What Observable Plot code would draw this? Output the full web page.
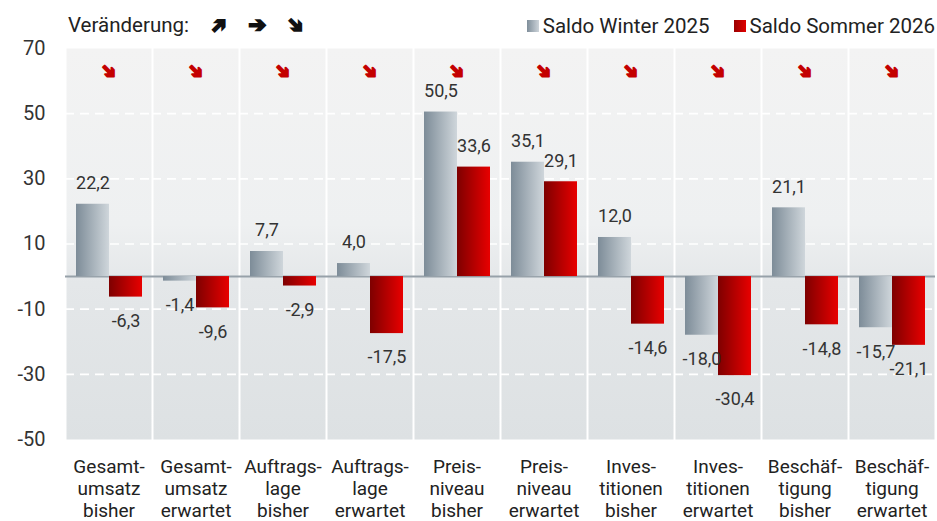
<!DOCTYPE html>
<html>
<head>
<meta charset="utf-8">
<script src="https://cdn.jsdelivr.net/npm/d3@7"></script>
<script src="https://cdn.jsdelivr.net/npm/@observablehq/plot@0.6"></script>
<style>
  body { margin: 0; background: #fff; font-family: Roboto, sans-serif; }
  #wrap { position: relative; width: 937px; height: 521px; }
  #legL { position: absolute; left: 68px; top: 11px; font-size: 20.5px; color: #222; white-space: nowrap; line-height: 28px; }
  #legL .ar { display: inline-block; margin-left: 21px; font-family: "DejaVu Sans"; font-size: 21px; font-weight: bold; color: #111; -webkit-text-stroke: 2px #111; }
  #legR { position: absolute; right: 2px; top: 11px; font-size: 20.5px; color: #222; white-space: nowrap; line-height: 28px; }
  #legR .it { display: inline-flex; align-items: center; margin-left: 24px; }
  #legR .sw { display: inline-block; width: 12px; height: 12px; margin-right: 4px; }
</style>
</head>
<body>
<div id="wrap">
  <div id="legL"></div>
  <div id="legR"></div>
</div>
<script>
// ---- data ----
const categories = [
  "Gesamt-\numsatz\nbisher",
  "Gesamt-\numsatz\nerwartet",
  "Auftrags-\nlage\nbisher",
  "Auftrags-\nlage\nerwartet",
  "Preis-\nniveau\nbisher",
  "Preis-\nniveau\nerwartet",
  "Inves-\ntitionen\nbisher",
  "Inves-\ntitionen\nerwartet",
  "Beschäf-\ntigung\nbisher",
  "Beschäf-\ntigung\nerwartet"
];
const series = ["Saldo Winter 2025", "Saldo Sommer 2026"];
const winter = [22.2, -1.4, 7.7, 4.0, 50.5, 35.1, 12.0, -18.0, 21.1, -15.7];
const summer = [-6.3, -9.6, -2.9, -17.5, 33.6, 29.1, -14.6, -30.4, -14.8, -21.1];
// change direction per category: "up", "flat", "down"
const changes = ["down", "down", "down", "down", "down", "down", "down", "down", "down", "down"];
const changeLevel = 63;
const legendTitle = "Veränderung:";
const legendDirections = ["up", "flat", "down"];
const arrowGlyph = "➔";
const arrowRotation = {up: -45, flat: 0, down: 45};
const yTicks = [70, 50, 30, 10, -10, -30, -50];
const gridValues = [50, 30, 10, -10, -30];
const yDomain = [-50, 70];

// ---- legends ----
const legL = document.getElementById("legL");
legL.innerHTML = `<span>${legendTitle}</span>` + legendDirections.map(d =>
  `<span class="ar" style="transform:rotate(${arrowRotation[d]}deg)">${arrowGlyph}</span>`).join("");
const swatches = ["linear-gradient(90deg,#7f8e9a,#cdd4da)", "linear-gradient(90deg,#9a0000,#e00000)"];
document.getElementById("legR").innerHTML = series.map((s, i) =>
  `<span class="it"><span class="sw" style="background:${swatches[i]}"></span>${s}</span>`).join("");

// ---- table ----
const rows = categories.flatMap((c, i) => [
  {cat: c, s: series[0], v: winter[i]},
  {cat: c, s: series[1], v: summer[i]}
]);
const arrows = categories.map((c, i) => ({cat: c, rot: arrowRotation[changes[i]], level: changeLevel}));
const fmt = v => v.toFixed(1).replace(".", ",");

const chart = Plot.plot({
  width: 937,
  height: 521,
  marginTop: 48,
  marginBottom: 82,
  marginLeft: 65,
  marginRight: 2,
  style: {fontFamily: "Roboto, sans-serif", background: "transparent", overflow: "visible"},
  fx: {domain: categories, padding: 0},
  x: {domain: series, paddingInner: 0, paddingOuter: 0.28, axis: null},
  y: {domain: yDomain},
  marks: [
    Plot.frame({fill: "url(#bgGrad)", insetLeft: 1, insetRight: 1}),
    Plot.ruleY(gridValues, {stroke: "white", strokeWidth: 1.6, strokeDasharray: "9,6"}),
    Plot.ruleY([0], {stroke: "#97a1a9", strokeWidth: 2}),
    Plot.barY(rows.filter(d => d.s === series[0]), {fx: "cat", x: "s", y: "v", fill: "url(#gW)"}),
    Plot.barY(rows.filter(d => d.s === series[1]), {fx: "cat", x: "s", y: "v", fill: "url(#gS)"}),
    Plot.text(rows.filter(d => d.v >= 0), {fx: "cat", x: "s", y: "v", text: d => fmt(d.v), dy: -21, fontSize: 18, fill: "#333"}),
    Plot.text(rows.filter(d => d.v < 0), {fx: "cat", x: "s", y: "v", text: d => fmt(d.v), dy: 24, fontSize: 18, fill: "#333"}),
    Plot.text(arrows, {fx: "cat", y: "level", text: () => arrowGlyph, rotate: "rot", fill: "#c40000", stroke: "#c40000", strokeWidth: 2.2, fontSize: 19, fontWeight: "bold", fontFamily: "DejaVu Sans"}),
    Plot.axisY(yTicks, {tickSize: 0, tickPadding: 20, fontSize: 20, fill: "#333", label: null, tickFormat: d => String(d)}),
    Plot.axisFx({anchor: "bottom", tickSize: 0, tickPadding: 18, fontSize: 19, lineHeight: 1.16, fill: "#222", label: null})
  ]
});

const svg = chart.tagName.toLowerCase() === "svg" ? chart : chart.querySelector("svg");
d3.select(svg).insert("defs", ":first-child").html(`
  <linearGradient id="bgGrad" x1="0" y1="0" x2="0" y2="1">
    <stop offset="0" stop-color="#f3f3f3"/>
    <stop offset="0.45" stop-color="#eef0f1"/>
    <stop offset="0.6" stop-color="#e4e7e9"/>
    <stop offset="1" stop-color="#dde1e3"/>
  </linearGradient>
  <linearGradient id="gW" x1="0" y1="0" x2="1" y2="0">
    <stop offset="0" stop-color="#7d8c98"/>
    <stop offset="1" stop-color="#cfd6db"/>
  </linearGradient>
  <linearGradient id="gS" x1="0" y1="0" x2="1" y2="0">
    <stop offset="0" stop-color="#7e0000"/>
    <stop offset="1" stop-color="#e80000"/>
  </linearGradient>`);
document.getElementById("wrap").prepend(chart);
</script>
</body>
</html>
